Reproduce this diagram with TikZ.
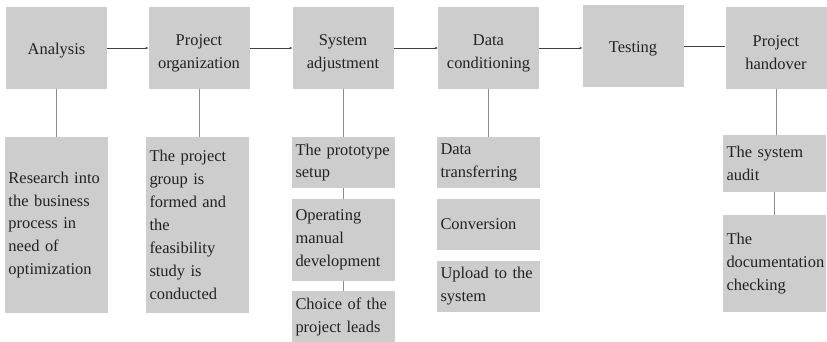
\documentclass[tikz,border=0pt]{standalone}
\usepackage{fontspec}
\setmainfont{Liberation Serif}
\usetikzlibrary{arrows.meta}
\definecolor{boxgray}{HTML}{CDCDCD}
\definecolor{inkgray}{HTML}{222222}
\begin{document}
\begin{tikzpicture}[x=1bp,y=-1bp,
  stage/.style={fill=boxgray,minimum width=101bp,minimum height=82bp,inner sep=0pt,align=center,text=inkgray,font=\fontsize{16.5}{23}\selectfont,text height=17.5bp},
  twoline/.style={text height=44bp},
  task/.style={fill=boxgray,minimum width=103bp,inner xsep=3.5bp,inner ysep=0pt,text width=96bp,align=left,text=inkgray,font=\fontsize{16.5}{23}\selectfont},
  flow/.style={draw=black!75,line width=0.8bp,-{Stealth[length=3bp,width=2.5bp]}},
  drop/.style={draw=black!45,line width=0.8bp}]
\useasboundingbox (0,0) rectangle (827,341);
\node[stage] (ana) at (56.5,48) {Analysis};
\node[stage,twoline] (org) at (199,48) {Project\\organization};
\node[stage,twoline] (sys) at (343,48) {System\\adjustment};
\node[stage,twoline] (dat) at (488.5,48) {Data\\conditioning};
\node[stage] (tst) at (633,46) {Testing};
\node[stage,twoline] (hnd) at (776,47.5) {Project\\handover};
\node[task,minimum height=176bp] (res) at (56.5,225) {Research into\\the business\\process in\\need of\\optimization};
\node[task,minimum height=176bp] (grp) at (197.5,225) {The project\\group is\\formed and\\the\\feasibility\\study is\\conducted};
\node[task,minimum height=51bp] (pro) at (343.5,162.5) {The prototype\\setup};
\node[task,minimum height=82bp] (man) at (343.5,240) {Operating\\manual\\development};
\node[task,minimum height=52bp] (cho) at (343.5,317) {Choice of the\\project leads};
\node[task,minimum height=51bp] (trf) at (488.5,162.5) {Data\\transferring};
\node[task,minimum height=51bp] (cnv) at (488.5,224.5) {Conversion};
\node[task,minimum height=51bp] (upl) at (488.5,286.5) {Upload to the\\system};
\node[task,minimum height=57bp] (aud) at (774.5,163.5) {The system\\audit};
\node[task,minimum height=97bp] (doc) at (774.5,263.5) {The\\documentation\\checking};
\foreach \a/\b in {ana/org,org/sys,sys/dat,dat/tst}
  \draw[flow] (\a.east) -- (\a.east -| \b.west);
\draw[flow,-] (tst.east) -- (tst.east -| hnd.west);
\foreach \a/\b in {ana/res,org/grp,sys/pro,dat/trf,hnd/aud,pro/man,man/cho,aud/doc}
  \draw[drop] (\a.south) -- (\a.south |- \b.north);
\end{tikzpicture}
\end{document}
